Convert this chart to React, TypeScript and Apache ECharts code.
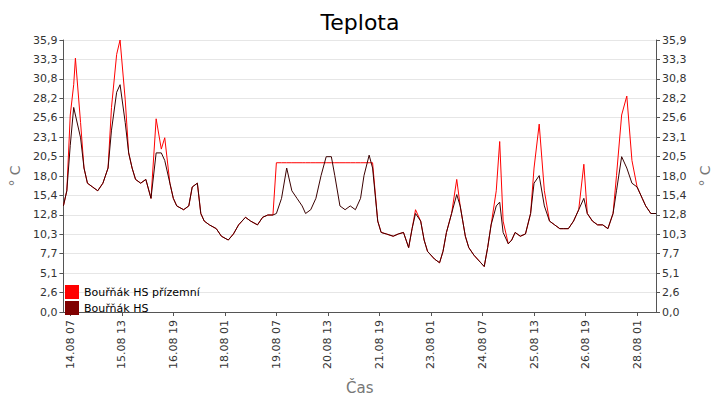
import React, { useEffect, useRef } from "react";
import * as echarts from "echarts";

// hours since 14.08 03:00
const HOURS = [0,2,4,6,7,10,12,14,17,20,23,26,28,31,33,36,38,40,42,45,48,51,54,57,59,62,64,66,70,73,75,78,80,82,85,89,92,96,99,102,106,109,113,116,119,122,124,127,130,133,136,139,141,144,147,150,153,156,158,161,164,167,170,173,175,178,180,183,185,188,192,195,198,201,203,205,208,210,212,216,219,221,223,226,229,231,234,236,239,243,245,247,249,252,254,256,259,261,263,266,269,272,274,277,280,283,286,289,291,294,297,300,303,305,308,311,314,317,320,322,325,328,331,334,337,339,342,345];
const HS = [14,16,22,27,26,23,19,17,16.5,16,17,19,24,29,30,25,21,19,17.5,17,17.5,15,21,21,20,17,15,14,13.5,14,16.5,17,13,12,11.5,11,10,9.5,10.3,11.5,12.5,12,11.5,12.5,12.8,12.8,13,15,19,16,15,14,13,13.5,15,18,20.5,20.5,18,14,13.5,14,13.5,15,18,20.7,19,12,10.5,10.3,10,10.3,10.5,8.5,11,13,12,9.5,8,7,6.5,8,10.5,13,15.5,14,10,8.5,7.5,6.5,6,8.5,11.5,14,14.5,10.5,9,9.5,10.5,10,10.3,13,17,18,14,12,11.5,11,11,11,12,13.5,15,13,12,11.5,11.5,11,13,16,20.5,19,17,16.5,15,14,13,13];
const HS_GROUND = [14,16,26,30,33.5,25,19,17,16.5,16,17,19,27,34,35.9,28,21,19,17.5,17,17.5,15,25.5,21.5,23,17,15,14,13.5,14,16.5,17,13,12,11.5,11,10,9.5,10.3,11.5,12.5,12,11.5,12.5,12.8,12.8,19.7,19.7,19.7,19.7,19.7,19.7,19.7,19.7,19.7,19.7,19.7,19.7,19.7,19.7,19.7,19.7,19.7,19.7,19.7,19.7,19.7,12,10.5,10.3,10,10.3,10.5,8.5,11,13.5,12,9.5,8,7,6.5,8,10.5,13,17.5,14,10,8.5,7.5,6.5,6,8.5,11.5,16,22.5,12,9,9.5,10.5,10,10.3,13,19,24.8,16,12,11.5,11,11,11,12,13.5,19.5,13,12,11.5,11.5,11,13,18,26,28.5,20,16.5,15,14,13,13];
const LABEL_HOURS = [4,34,64,94,124,154,184,214,244,274,304,334];
const Y_MAX = 35.9;

const fmtHour = (h: number) => {
  const t = h + 3;
  const d = 14 + Math.floor(t / 24);
  const hh = Math.round(t % 24);
  return `${d}.08 ${String(hh).padStart(2, "0")}`;
};
const fmtY = (v: number) => (Math.round(v * 10 + 0.001) / 10).toFixed(1).replace(".", ",");
const font = "DejaVu Sans";

export default function App() {
  const ref = useRef<HTMLDivElement>(null);
  useEffect(() => {
    document.body.style.margin = "0";
    const chart = echarts.init(ref.current!, undefined, { renderer: "svg" });
    const yAx = (pos: string) => ({
      type: "value", position: pos, min: 0, max: Y_MAX, interval: Y_MAX / 14,
      name: "° C", nameLocation: "middle", nameGap: pos === "left" ? 40 : 42, nameRotate: 90,
      nameTextStyle: { color: "#777", fontSize: 14, fontFamily: font },
      axisLine: { show: true, lineStyle: { color: "#555" } },
      axisTick: { show: true, length: 4, lineStyle: { color: "#555" } },
      axisLabel: { formatter: fmtY, fontSize: 11, color: "#333", fontFamily: font, margin: 6 },
      splitLine: { show: pos === "left", lineStyle: { color: "#e6e6e6" } },
    });
    chart.setOption({
      animation: false,
      title: { text: "Teplota", left: "center", top: 6, textStyle: { fontSize: 22, fontWeight: "normal", color: "#000", fontFamily: font } },
      grid: { left: 55, right: 55, top: 40, bottom: 85 },
      legend: {
        left: 60, top: 280, orient: "vertical", itemWidth: 14, itemHeight: 14, itemGap: 2,
        icon: "rect", textStyle: { fontSize: 11, fontFamily: font, color: "#000" },
        data: ["Bouřňák HS přízemní", "Bouřňák HS"],
      },
      xAxis: {
        type: "value", min: 0, max: 345,
        name: "Čas", nameLocation: "middle", nameGap: 68,
        nameTextStyle: { color: "#777", fontSize: 15, fontFamily: font },
        axisLine: { lineStyle: { color: "#555" } },
        axisTick: { customValues: LABEL_HOURS, length: 4, lineStyle: { color: "#555" } },
        axisLabel: { customValues: LABEL_HOURS, formatter: fmtHour, rotate: 90, fontSize: 11, color: "#333",
          fontFamily: font, hideOverlap: false, showMinLabel: true, overflow: "none" },
        splitLine: { show: false },
      },
      yAxis: [yAx("left"), yAx("right")],
      series: [
        { name: "Bouřňák HS přízemní", type: "line", showSymbol: false, color: "#ff0000", lineStyle: { width: 1 },
          data: HOURS.map((h, i) => [h, HS_GROUND[i]]) },
        { name: "Bouřňák HS", type: "line", showSymbol: false, color: "#800000", lineStyle: { width: 1, color: "#3a0000" },
          data: HOURS.map((h, i) => [h, HS[i]]) },
      ],
    });
    return () => chart.dispose();
  }, []);
  return <div ref={ref} style={{ width: 720, height: 400 }} />;
}
